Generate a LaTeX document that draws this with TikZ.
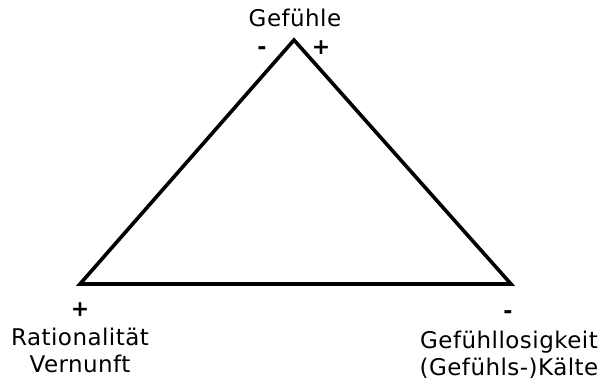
\documentclass[tikz,border=0pt]{standalone}
\usepackage{fontspec}
\setmainfont[LetterSpace=2]{DejaVu Sans}
\begin{document}
\begin{tikzpicture}[x=1pt,y=-1pt,
  lbl/.style={inner sep=0pt,anchor=base,font=\fontsize{23}{28}\selectfont},
  sgn/.style={inner sep=0pt,font=\bfseries\fontsize{22}{26}\selectfont}]
\useasboundingbox (0,0) rectangle (601,383);
\coordinate (A) at (294,40);
\coordinate (B) at (80,284);
\coordinate (C) at (511,284);
\draw[line width=3.6pt,line join=miter] (A) -- (B) -- (C) -- cycle;
\node[lbl] (g) at (295,26) {Gefühle};
\node[sgn] (gm) at (262,51) {-};
\node[sgn] (gp) at (321,48) {+};
\node[sgn] (rp) at (80,310) {+};
\node[lbl] (r1) at (80,345) {Rationalität};
\node[lbl] (r2) at (80,372) {Vernunft};
\node[sgn] (km) at (508,315) {-};
\node[lbl] (k1) at (509,348) {Gefühllosigkeit};
\node[lbl] (k2) at (509,375) {(Gefühls-)Kälte};
\end{tikzpicture}
\end{document}
